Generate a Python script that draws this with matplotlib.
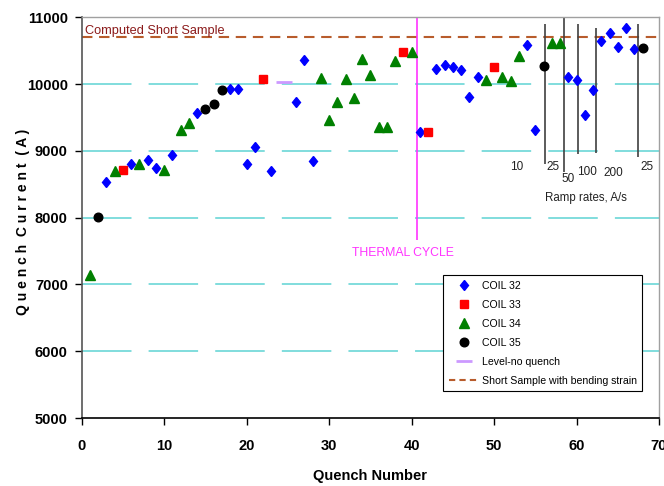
import matplotlib
matplotlib.use("Agg")
import matplotlib.pyplot as plt
from matplotlib.markers import MarkerStyle
from matplotlib.transforms import Affine2D

# ---------------- data ----------------
coil32_q = [3, 6, 8, 9, 11, 14, 18, 19, 20, 21, 23, 26, 27, 28, 41, 43, 44, 45, 46, 47, 48,
            54, 55, 59, 60, 61, 62, 63, 64, 65, 66, 67]
coil32_i = [8530, 8810, 8860, 8745, 8945, 9560, 9920, 9930, 8810, 9055, 8700, 9725, 10360, 8850,
            9285, 10220, 10280, 10260, 10210, 9800, 10110, 10585, 9310, 10100, 10060, 9535, 9910,
            10650, 10770, 10550, 10835, 10525]

coil33_q = [5, 22, 39, 42, 50]
coil33_i = [8710, 10070, 10475, 9280, 10250]

coil34_q = [1, 4, 7, 10, 12, 13, 29, 30, 31, 32, 33, 34, 35, 36, 37, 38, 40, 49, 51, 52, 53, 57, 58]
coil34_i = [7140, 8700, 8810, 8710, 9310, 9410, 10090, 9460, 9730, 10070, 9785, 10370, 10135,
            9360, 9360, 10345, 10475, 10060, 10110, 10045, 10420, 10620, 10620]

coil35_q = [2, 15, 16, 17, 56, 68]
coil35_i = [8010, 9625, 9700, 9910, 10270, 10535]

level_q = [24.5]
level_i = [10035]

short_sample = 10700

thermal_q = 40.7
thermal_range = [7670, 11000]

ramp_line_q = [56.2, 58.5, 60.2, 62.4, 67.5]
ramp_line_top = [10900, 11000, 10900, 10840, 10900]
ramp_line_bot = [8810, 8685, 8950, 8965, 8905]

ramp_labels = ["10", "25", "50", "100", "200", "25"]
ramp_label_q = [52.8, 57.1, 59.0, 61.3, 64.5, 68.6]
ramp_label_i = [8760, 8760, 8585, 8685, 8670, 8760]

# ---------------- style ----------------
plt.rcParams['font.family'] = ['Liberation Sans', 'DejaVu Sans']

fig = plt.figure(figsize=(6.64, 4.86), dpi=100)
L, R, T, B = 81.7, 659.0, 17.3, 418.0
W, H = 664.0, 486.0
ax = fig.add_axes([L / W, 1 - B / H, (R - L) / W, (B - T) / H])

ax.set_xlim(0, 70)
ax.set_ylim(5000, 11000)

# grid lines
for yv in [6000, 7000, 8000, 9000, 10000]:
    ax.axhline(yv, color='#5ed3d3', lw=1.1, dashes=(32.4, 11.2), zorder=1)

# short sample line
ax.axhline(short_sample, color='#b85c2c', lw=1.5, dashes=(5, 3.2), zorder=2)
ax.text(0.35, 10790, "Computed Short Sample", color='#8b1a1a', fontsize=9.2,
        ha='left', va='center', zorder=3)

# thermal cycle
ax.vlines(thermal_q, thermal_range[0], thermal_range[1], color='#ff33ff', lw=1.2, zorder=2)
ax.text(39.0, 7470, "THERMAL CYCLE", color='#ff33ff', fontsize=8.8, ha='center', va='center')

# ramp rate separators
ax.vlines(ramp_line_q, ramp_line_bot, ramp_line_top, color='#404040', lw=1.2, zorder=2)
for lab, q, i in zip(ramp_labels, ramp_label_q, ramp_label_i):
    ax.text(q, i, lab, fontsize=8.5, color='#222222', ha='center', va='center')
ax.text(61.1, 8300, "Ramp rates, A/s", fontsize=8.3, color='#222222', ha='center', va='center')

# data series
diamond = MarkerStyle('D', transform=Affine2D().scale(0.8, 1.0))
ax.plot(coil32_q, coil32_i, linestyle='none', marker=diamond, markersize=5.6,
        color='#0000ff', label='COIL 32', zorder=4)
ax.plot(coil33_q, coil33_i, linestyle='none', marker='s', markersize=6,
        color='#ff0000', label='COIL 33', zorder=4)
ax.plot(coil34_q, coil34_i, linestyle='none', marker='^', markersize=7.2,
        color='#008000', label='COIL 34', zorder=4)
ax.plot(coil35_q, coil35_i, linestyle='none', marker='o', markersize=6.2,
        color='#000000', label='COIL 35', zorder=4)
ax.plot(level_q, level_i, linestyle='none', marker='_', markersize=11.5, markeredgewidth=2,
        color='#cc99ff', label='Level-no quench', zorder=4)
ax.plot([], [], color='#b85c2c', lw=1.5, dashes=(3, 2), label='Short Sample with bending strain')

# axes styling
for side in ['top', 'right']:
    ax.spines[side].set_color('#a0a0a0')
    ax.spines[side].set_linewidth(1.0)
ax.spines['left'].set_color('#555555')
ax.spines['left'].set_linewidth(1.2)
ax.spines['bottom'].set_color('#000000')
ax.spines['bottom'].set_linewidth(1.2)

ax.set_xticks(range(0, 71, 10))
ax.set_yticks(range(5000, 11001, 1000))
ax.tick_params(axis='both', direction='out', length=5, width=1, labelsize=10.5)
for lab in ax.get_xticklabels() + ax.get_yticklabels():
    lab.set_fontweight('bold')
ax.tick_params(axis='x', pad=10)
ax.tick_params(axis='y', pad=5)

ax.set_xlabel("Quench Number", fontsize=10.5, fontweight='bold')
ax.xaxis.set_label_coords(0.5, (B - 469) / (B - T))
ax.set_ylabel("Q u e n c h  C u r r e n t  ( A )", fontsize=10, fontweight='bold')
ax.yaxis.set_label_coords((30 - L) / (R - L), 0.49)

leg = ax.legend(loc='upper left', bbox_to_anchor=((443 - L) / (R - L), (B - 275) / (B - T)),
                fontsize=7.6, frameon=True, fancybox=False, edgecolor='black', framealpha=1,
                numpoints=1, handlelength=2.9, handletextpad=0.2, labelspacing=0.85,
                borderpad=0.55, borderaxespad=0)
leg.get_frame().set_linewidth(0.8)

fig.savefig("out.png", dpi=100)
